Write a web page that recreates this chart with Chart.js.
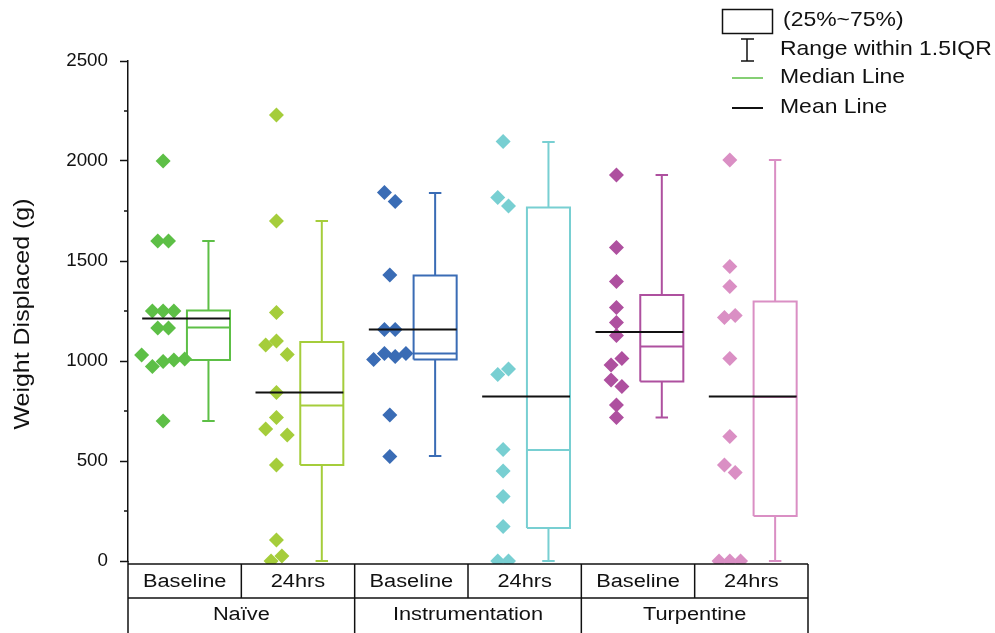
<!DOCTYPE html>
<html>
<head>
<meta charset="utf-8">
<script src="https://cdn.jsdelivr.net/npm/chart.js@4/dist/chart.umd.min.js"></script>
<style>
  html, body { margin: 0; padding: 0; background: #fff; }
  canvas { display: block; }
</style>
</head>
<body>
<canvas id="boxChart" width="995" height="633"></canvas>
<script>
// categories (one column of the table each)
const conditions = ['Baseline', '24hrs', 'Baseline', '24hrs', 'Baseline', '24hrs'];
const groups = ['Naïve', 'Instrumentation', 'Turpentine'];
const yTicks = [0, 500, 1000, 1500, 2000, 2500];

// raw points (order inside a cluster = left to right)
const naiveBase = [2000, 1600, 1600, 1250, 1250, 1250, 1165, 1165, 1030, 972, 997, 1005, 1010, 700];
const naive24 = [2230, 1700, 1243, 1080, 1100, 1033, 843, 660, 717, 630, 480, 105, 0, 25];
const instrBase = [1842, 1797, 1430, 1158, 1158, 1008, 1038, 1022, 1038, 730, 522];
const instr24 = [2097, 1817, 1775, 933, 960, 558, 450, 322, 172, 0, 0];
const turpBase = [1930, 1568, 1397, 1267, 1192, 1127, 980, 1013, 905, 872, 780, 717];
const turp24 = [2005, 1472, 1372, 1218, 1227, 1013, 622, 480, 443, 0, 0, 0];
const points = [naiveBase, naive24, instrBase, instr24, turpBase, turp24];

// box statistics
const q1 = [1005, 480, 1008, 165, 897, 225];
const median = [1167, 777, 1038, 555, 1072, 820];
const q3 = [1252, 1095, 1427, 1768, 1330, 1297];
const mean = [1213, 843, 1158, 822, 1145, 822];
const whiskerLow = [700, 0, 525, 0, 717, 0];
const whiskerHigh = [1600, 1700, 1840, 2095, 1930, 2005];

const colors = ['#5dbf46', '#a5cd3b', '#3a6cb5', '#78cfd2', '#ae509f', '#da8fc4'];

// layout in x units (one category = 1 unit)
const DOT_OFF = -0.19, BOX_OFF = 0.21, BOX_HALF = 0.19, CAP = 0.055, STEP = 0.095;
const STRETCH = 1.16;
const FONT = '"Liberation Sans", Arial, sans-serif';

function swarm(values, center) {
  const idx = values.map((v, i) => i).sort((a, b) => values[a] - values[b]);
  const clusters = [];
  idx.forEach(i => {
    const c = clusters[clusters.length - 1];
    if (c && values[i] - values[c[c.length - 1]] <= 60) c.push(i);
    else clusters.push([i]);
  });
  const out = [];
  clusters.forEach(c => {
    c.sort((a, b) => a - b);
    c.forEach((i, k) => out.push({ x: center + (k - (c.length - 1) / 2) * STEP, y: values[i] }));
  });
  return out;
}

function boxPath(i) {
  const c = i + 0.5 + BOX_OFF, l = c - BOX_HALF, r = c + BOX_HALF;
  const gap = { x: c, y: null };
  return [
    { x: l, y: q1[i] }, { x: r, y: q1[i] }, { x: r, y: q3[i] }, { x: l, y: q3[i] }, { x: l, y: q1[i] }, gap,
    { x: l, y: median[i] }, { x: r, y: median[i] }, gap,
    { x: c, y: q3[i] }, { x: c, y: whiskerHigh[i] }, gap,
    { x: c - CAP, y: whiskerHigh[i] }, { x: c + CAP, y: whiskerHigh[i] }, gap,
    { x: c, y: q1[i] }, { x: c, y: whiskerLow[i] }, gap,
    { x: c - CAP, y: whiskerLow[i] }, { x: c + CAP, y: whiskerLow[i] }
  ];
}

const meanData = [];
mean.forEach((m, i) => {
  meanData.push({ x: i + 0.5 + DOT_OFF - 0.185, y: m }, { x: i + 0.5 + BOX_OFF + BOX_HALF, y: m }, { x: i, y: null });
});

const clipArea = { left: 20, top: 20, right: 20, bottom: 3 };
const datasets = [{
  data: meanData, showLine: true, borderColor: '#111', borderWidth: 2, pointRadius: 0, clip: clipArea
}];
points.forEach((vals, i) => {
  datasets.push({
    data: swarm(vals, i + 0.5 + DOT_OFF),
    pointStyle: 'rectRot', pointRadius: 7.5, pointHoverRadius: 7.5,
    backgroundColor: colors[i], borderWidth: 0, clip: clipArea
  });
  datasets.push({
    data: boxPath(i), showLine: true, borderColor: colors[i], borderWidth: 2,
    borderJoinStyle: 'miter', pointRadius: 0, clip: clipArea
  });
});

function stretchText(ctx, text, x, y, size, align, rot) {
  ctx.save();
  ctx.translate(x, y);
  if (rot) ctx.rotate(rot);
  ctx.scale(STRETCH, 1);
  ctx.font = size + 'px ' + FONT;
  ctx.fillStyle = '#111';
  ctx.textAlign = align;
  ctx.textBaseline = 'middle';
  ctx.fillText(text, 0, 0);
  ctx.restore();
}

function line(ctx, x1, y1, x2, y2) {
  ctx.beginPath();
  ctx.moveTo(x1, y1);
  ctx.lineTo(x2, y2);
  ctx.stroke();
}

const decorations = {
  id: 'decorations',
  afterDraw(chart) {
    const ctx = chart.ctx;
    const xs = chart.scales.x, ys = chart.scales.y;
    const left = xs.getPixelForValue(0), right = xs.getPixelForValue(6);
    const y0 = ys.getPixelForValue(0);
    const rowTop = y0 + 3, rowMid = y0 + 37, bottom = chart.height;

    ctx.save();
    ctx.strokeStyle = '#111';
    ctx.lineWidth = 1.5;
    // minor ticks and axis extension into the table
    for (let v = 250; v < 2500; v += 500) {
      const p = ys.getPixelForValue(v);
      line(ctx, left - 4, p, left, p);
    }
    line(ctx, left, y0, left, bottom);
    // table
    line(ctx, left, rowTop, right, rowTop);
    line(ctx, left, rowMid, right, rowMid);
    for (let i = 1; i <= 6; i++) {
      const p = xs.getPixelForValue(i);
      line(ctx, p, rowTop, p, i % 2 === 0 ? bottom : rowMid);
    }
    conditions.forEach((c, i) => {
      stretchText(ctx, c, xs.getPixelForValue(i + 0.5), (rowTop + rowMid) / 2 + 1, 18.8, 'center');
    });
    groups.forEach((g, i) => {
      stretchText(ctx, g, xs.getPixelForValue(i * 2 + 1), rowMid + 17, 18.8, 'center');
    });

    // y title
    stretchText(ctx, 'Weight Displaced (g)', 23, 314, 21.5, 'center', -Math.PI / 2);

    // legend
    ctx.lineWidth = 1.5;
    ctx.strokeRect(722.5, 9.5, 50, 24);
    line(ctx, 747, 39, 747, 61);
    line(ctx, 741, 39, 754, 39);
    line(ctx, 741, 61, 754, 61);
    ctx.strokeStyle = colors[0];
    line(ctx, 732, 78, 763, 78);
    ctx.strokeStyle = '#111';
    ctx.lineWidth = 2;
    line(ctx, 732, 108, 763, 108);
    stretchText(ctx, '(25%~75%)', 783, 21, 19.8, 'left');
    stretchText(ctx, 'Range within 1.5IQR', 780, 50, 19.8, 'left');
    stretchText(ctx, 'Median Line', 780, 78, 19.8, 'left');
    stretchText(ctx, 'Mean Line', 780, 108, 19.8, 'left');
    ctx.restore();
  }
};

new Chart(document.getElementById('boxChart'), {
  type: 'scatter',
  data: { datasets: datasets },
  plugins: [decorations],
  options: {
    responsive: false,
    animation: false,
    devicePixelRatio: 1,
    layout: { padding: { left: 0, top: 61, right: 187, bottom: 72 } },
    plugins: { legend: { display: false }, tooltip: { enabled: false } },
    scales: {
      x: { type: 'linear', min: 0, max: 6, display: false },
      y: {
        min: 0, max: 2500,
        afterFit(scale) { scale.width = 128; },
        afterBuildTicks(scale) { scale.ticks = yTicks.map(v => ({ value: v })); },
        ticks: {
          padding: 12, color: '#111', autoSkip: false,
          font: { family: FONT, size: 18.8 },
          callback: v => String(v)
        },
        grid: { drawOnChartArea: false, tickLength: 8, tickColor: '#111', tickWidth: 1.5 },
        border: { color: '#111', width: 1.5 }
      }
    }
  }
});
</script>
</body>
</html>
